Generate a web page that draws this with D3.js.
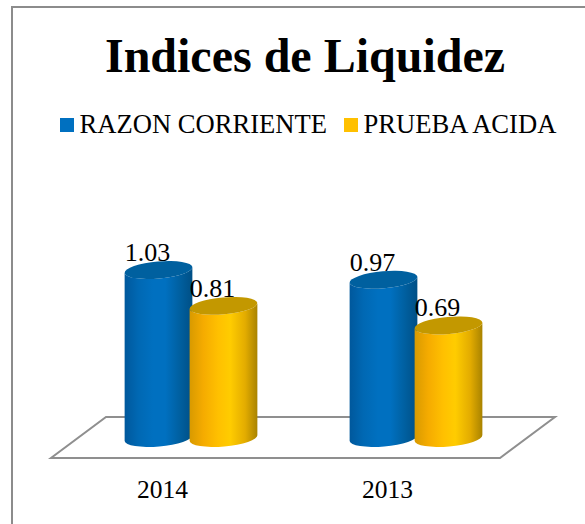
<!DOCTYPE html>
<html>
<head>
<meta charset="utf-8">
<title>Indices de Liquidez</title>
<script src="https://d3js.org/d3.v7.min.js"></script>
<style>
  html, body { margin: 0; padding: 0; background: #fff; }
  svg { display: block; }
  text { font-family: "Liberation Serif", serif; fill: #000; }
</style>
</head>
<body>
<div id="container"></div>
<script>
// Data
const years = ["2014", "2013"]
const seriesNames = ["RAZON CORRIENTE", "PRUEBA ACIDA"]
const razonCorriente = [1.03, 0.97]
const pruebaAcida = [0.81, 0.69]
const seriesValues = [razonCorriente, pruebaAcida]

const w = 585
const h = 524
const baseY = 438     // centre of the cylinder bases
const floorFront = 458
const floorBack = 417
const depth = 55      // sideways shift of the floor's back edge

const svg = d3.select("#container").append("svg")
  .attr("width", w)
  .attr("height", h)

const defs = svg.append("defs")

// Cylinder shading, one horizontal gradient per series
const shades = [
  { id: "bodyBlue", top: "#00609f", stops: ["#00589c", "#0068b3", "#0070c0", "#0070c0", "#005f9f", "#004f85"] },
  { id: "bodyYellow", top: "#c39800", stops: ["#d89a00", "#f5ab00", "#ffc000", "#ffcc00", "#e3ac00", "#a98300"] }
]
const stopAt = [0, 0.2, 0.42, 0.6, 0.82, 1]
shades.forEach(s => {
  const g = defs.append("linearGradient").attr("id", s.id)
  s.stops.forEach((c, i) => {
    g.append("stop").attr("offset", stopAt[i]).attr("stop-color", c)
  })
})

// Scales
const x0 = d3.scaleBand().domain(years).range([78.5, 528.5])
const x1 = d3.scaleBand().domain(seriesNames).range([-65, 65])
const y = d3.scaleLinear().domain([0, 1.03]).range([baseY, baseY - 168])

// Frame (only top and left show inside the crop)
svg.append("path")
  .attr("d", `M${w},7H12V${h}`)
  .attr("fill", "none")
  .attr("stroke", "#8c8c8c")
  .attr("stroke-width", 2)

// Title
svg.append("text")
  .attr("x", 305)
  .attr("y", 72)
  .attr("text-anchor", "middle")
  .attr("font-size", 48)
  .attr("font-weight", "bold")
  .text("Indices de Liquidez")

// Legend
const legendX = [60, 344]
seriesNames.forEach((name, i) => {
  svg.append("rect")
    .attr("x", legendX[i])
    .attr("y", 118)
    .attr("width", 14)
    .attr("height", 14)
    .attr("fill", i == 0 ? "#0070c0" : "#ffc000")
  svg.append("text")
    .attr("x", legendX[i] + 19.5)
    .attr("y", 133)
    .attr("font-size", 26.6)
    .text(name)
})

// Floor
const left = x0.range()[0] - 27.5
const right = x0.range()[1] - 28.5
svg.append("path")
  .attr("d", `M${left},${floorFront}H${right}L${right + depth},${floorBack}H${left + depth}Z`)
  .attr("fill", "#fff")
  .attr("stroke", "#8f8f8f")
  .attr("stroke-width", 2)

// Category labels
const xAxis = d3.axisBottom(x0).tickSize(0).tickPadding(0)
const axisG = svg.append("g")
  .attr("transform", "translate(-28.5,480)")
  .call(xAxis)
axisG.select(".domain").remove()
axisG.selectAll("text")
  .attr("font-size", 25.5)
  .attr("font-family", "Liberation Serif")
  .attr("fill", "#000")

// Tilted ellipse helpers
const rx = 34
const ry = 8.5
const tilt = -5
const dx = rx * Math.cos(tilt * Math.PI / 180)
const dy = rx * Math.sin(tilt * Math.PI / 180)

const bodyPath = (cx, topY) =>
  `M${cx - dx},${topY - dy}` +
  `L${cx - dx},${baseY - dy}` +
  `A${rx},${ry} ${tilt} 0 0 ${cx + dx},${baseY + dy}` +
  `L${cx + dx},${topY + dy}` +
  `A${rx},${ry} ${tilt} 0 1 ${cx - dx},${topY - dy}Z`

// Cylinders, drawn series by series so yellow overlaps blue
seriesNames.forEach((name, s) => {
  years.forEach((yr, i) => {
    const v = seriesValues[s][i]
    const cx = x0(yr) + x0.bandwidth() / 2 + x1(name) + x1.bandwidth() / 2
    const topY = y(v)
    svg.append("path")
      .attr("d", bodyPath(cx, topY))
      .attr("fill", `url(#${shades[s].id})`)
    svg.append("ellipse")
      .attr("rx", rx)
      .attr("ry", ry)
      .attr("transform", `translate(${cx},${topY}) rotate(${tilt})`)
      .attr("fill", shades[s].top)
    svg.append("text")
      .attr("x", cx - 11)
      .attr("y", topY - 9)
      .attr("text-anchor", "middle")
      .attr("font-size", 26)
      .text(v.toFixed(2))
  })
})
</script>
</body>
</html>
